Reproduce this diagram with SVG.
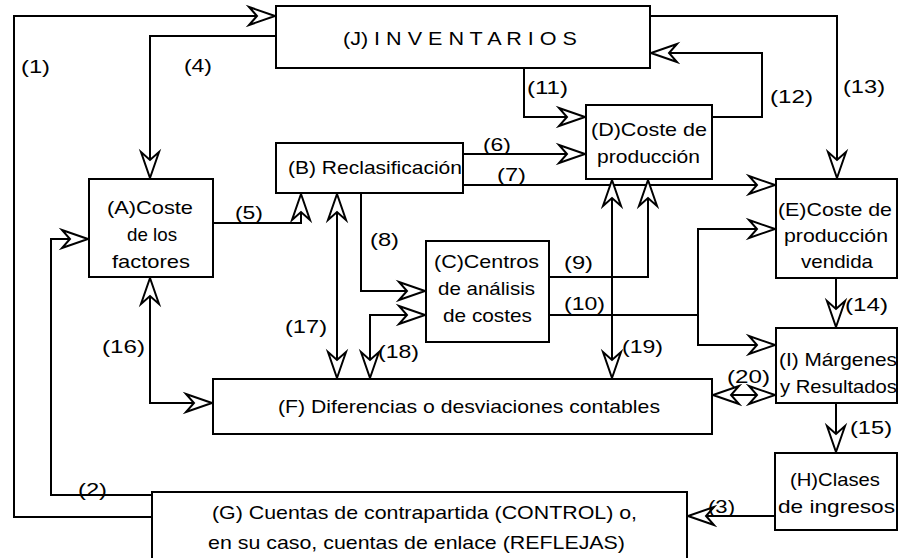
<svg xmlns="http://www.w3.org/2000/svg" width="898" height="558" viewBox="0 0 898 558">
<style>
.box{fill:#fff;stroke:#000;stroke-width:2}
.ln{fill:none;stroke:#000;stroke-width:2}
.a{marker-end:url(#ah)}
.b{marker-start:url(#ah);marker-end:url(#ah)}
text{font-family:"Liberation Sans",Arial,sans-serif;font-size:19px;fill:#000}
</style>
<defs>
<marker id="ah" viewBox="-30 -12 32 24" refX="0" refY="0" markerWidth="32" markerHeight="24" markerUnits="userSpaceOnUse" orient="auto-start-reverse" overflow="visible">
<path d="M-1,0 L-27,-9 L-19,0 L-27,9 Z" fill="#fff" stroke="#000" stroke-width="2"/>
</marker>
</defs>
<rect width="898" height="558" fill="#fff"/>
<g id="connectors">
<path class="ln a" d="M152,517 H14 V16 H276"/>
<path class="ln a" d="M152,495 H51 V239 H89"/>
<path class="ln a" d="M775,516 H687"/>
<path class="ln a" d="M276,36 H150 V179"/>
<path class="ln a" d="M213,223 H301 V193"/>
<path class="ln a" d="M463,154 H586"/>
<path class="ln a" d="M463,185 H776"/>
<path class="ln a" d="M361,193 V291 H426"/>
<path class="ln a" d="M549,277 H648 V179"/>
<path class="ln" d="M549,315 H698"/>
<path class="ln b" d="M776,229 H698 V345 H776"/>
<path class="ln a" d="M524,68 V117 H586"/>
<path class="ln a" d="M712,117 H762 V53 H650"/>
<path class="ln a" d="M650,16 H837 V179"/>
<path class="ln a" d="M836,278 V328"/>
<path class="ln a" d="M836,403 V453"/>
<path class="ln b" d="M150,277 V403 H213"/>
<path class="ln b" d="M337,193 V379"/>
<path class="ln b" d="M370,379 V315 H426"/>
<path class="ln b" d="M612,179 V379"/>
<path class="ln b" d="M712,395 H776"/>
<text x="21" y="73" textLength="29" lengthAdjust="spacingAndGlyphs">(1)</text>
<text x="78" y="496" textLength="29" lengthAdjust="spacingAndGlyphs">(2)</text>
<text x="708" y="513" textLength="27" lengthAdjust="spacingAndGlyphs">(3)</text>
<text x="184" y="72" textLength="28" lengthAdjust="spacingAndGlyphs">(4)</text>
<text x="235" y="219" textLength="28" lengthAdjust="spacingAndGlyphs">(5)</text>
<text x="483" y="151" textLength="28" lengthAdjust="spacingAndGlyphs">(6)</text>
<text x="497" y="181" textLength="29" lengthAdjust="spacingAndGlyphs">(7)</text>
<text x="370" y="246" textLength="29" lengthAdjust="spacingAndGlyphs">(8)</text>
<text x="564" y="269" textLength="29" lengthAdjust="spacingAndGlyphs">(9)</text>
<text x="564" y="310" textLength="41" lengthAdjust="spacingAndGlyphs">(10)</text>
<text x="527" y="94" textLength="41" lengthAdjust="spacingAndGlyphs">(11)</text>
<text x="770" y="103" textLength="43" lengthAdjust="spacingAndGlyphs">(12)</text>
<text x="843" y="93" textLength="42" lengthAdjust="spacingAndGlyphs">(13)</text>
<text x="845" y="311" textLength="43" lengthAdjust="spacingAndGlyphs">(14)</text>
<text x="850" y="434" textLength="42" lengthAdjust="spacingAndGlyphs">(15)</text>
<text x="102" y="353" textLength="43" lengthAdjust="spacingAndGlyphs">(16)</text>
<text x="285" y="333" textLength="42" lengthAdjust="spacingAndGlyphs">(17)</text>
<text x="378" y="358" textLength="41" lengthAdjust="spacingAndGlyphs">(18)</text>
<text x="622" y="353" textLength="41" lengthAdjust="spacingAndGlyphs">(19)</text>
<text x="727" y="383" textLength="43" lengthAdjust="spacingAndGlyphs">(20)</text>
</g>
<g id="J">
<rect class="box" x="276" y="6" width="374" height="62"/>
<text x="343" y="45" textLength="234" lengthAdjust="spacingAndGlyphs">(J) I N V E N T A R I O S</text>
</g>
<g id="A">
<rect class="box" x="89" y="179" width="124" height="98"/>
<text x="107" y="214" textLength="86" lengthAdjust="spacingAndGlyphs">(A)Coste</text>
<text x="127" y="241" textLength="50" lengthAdjust="spacingAndGlyphs">de los</text>
<text x="112" y="268" textLength="78" lengthAdjust="spacingAndGlyphs">factores</text>
</g>
<g id="B">
<rect class="box" x="276" y="143" width="187" height="50"/>
<text x="288" y="174" textLength="174" lengthAdjust="spacingAndGlyphs">(B) Reclasificación</text>
</g>
<g id="C">
<rect class="box" x="426" y="241" width="123" height="101"/>
<text x="434" y="268" textLength="105" lengthAdjust="spacingAndGlyphs">(C)Centros</text>
<text x="438" y="295" textLength="97" lengthAdjust="spacingAndGlyphs">de análisis</text>
<text x="443" y="322" textLength="89" lengthAdjust="spacingAndGlyphs">de costes</text>
</g>
<g id="D">
<rect class="box" x="586" y="105" width="126" height="74"/>
<text x="591" y="136" textLength="116" lengthAdjust="spacingAndGlyphs">(D)Coste de</text>
<text x="597" y="163" textLength="103" lengthAdjust="spacingAndGlyphs">producción</text>
</g>
<g id="E">
<rect class="box" x="776" y="179" width="121" height="99"/>
<text x="778" y="216" textLength="114" lengthAdjust="spacingAndGlyphs">(E)Coste de</text>
<text x="784" y="242" textLength="104" lengthAdjust="spacingAndGlyphs">producción</text>
<text x="801" y="268" textLength="72" lengthAdjust="spacingAndGlyphs">vendida</text>
</g>
<g id="I">
<rect class="box" x="776" y="328" width="121" height="75"/>
<text x="779" y="366" textLength="118" lengthAdjust="spacingAndGlyphs">(I) Márgenes</text>
<text x="780" y="393" textLength="117" lengthAdjust="spacingAndGlyphs">y Resultados</text>
</g>
<g id="H">
<rect class="box" x="775" y="453" width="122" height="77"/>
<text x="790" y="486" textLength="90" lengthAdjust="spacingAndGlyphs">(H)Clases</text>
<text x="778" y="513" textLength="117" lengthAdjust="spacingAndGlyphs">de ingresos</text>
</g>
<g id="F">
<rect class="box" x="213" y="379" width="499" height="55"/>
<text x="278" y="413" textLength="382" lengthAdjust="spacingAndGlyphs">(F) Diferencias o desviaciones contables</text>
</g>
<g id="G">
<rect class="box" x="152" y="492" width="535" height="80"/>
<text x="212" y="519" textLength="425" lengthAdjust="spacingAndGlyphs">(G) Cuentas de contrapartida (CONTROL) o,</text>
<text x="208" y="549" textLength="417" lengthAdjust="spacingAndGlyphs">en su caso, cuentas de enlace (REFLEJAS)</text>
</g>
</svg>
